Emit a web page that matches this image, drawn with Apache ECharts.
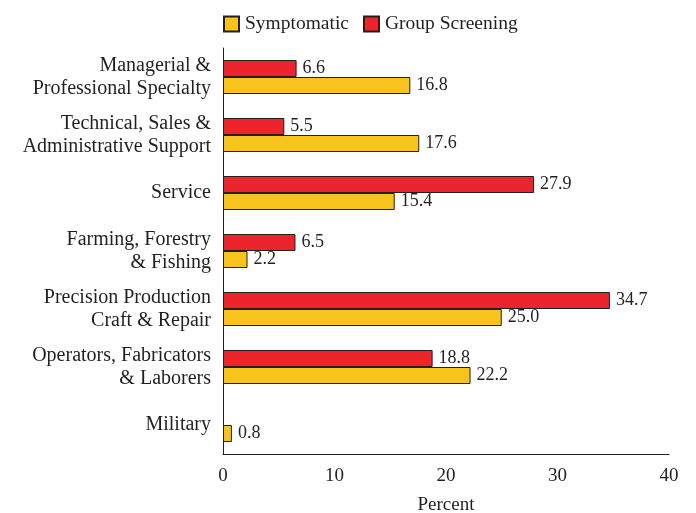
<!DOCTYPE html>
<html>
<head>
  <meta charset="UTF-8">
  <script src="https://cdn.jsdelivr.net/npm/echarts@6/dist/echarts.min.js"></script>
</head>
<body style="margin:0">
  <div id="main" style="width:696px;height:513px;"></div>
  <script>
    var categories = [
      'Managerial &\nProfessional Specialty',
      'Technical, Sales &\nAdministrative Support',
      'Service',
      'Farming, Forestry\n& Fishing',
      'Precision Production\nCraft & Repair',
      'Operators, Fabricators\n& Laborers',
      'Military'
    ];
    var symptomatic = [16.8, 17.6, 15.4, 2.2, 25.0, 22.2, 0.8];
    var groupScreening = [6.6, 5.5, 27.9, 6.5, 34.7, 18.8, '-'];
    var xTicks = [0, 10, 20, 30, 40];

    var font = '"Liberation Serif", "DejaVu Serif", serif';
    var myChart = echarts.init(document.getElementById('main'));

    myChart.setOption({
      animation: false,
      textStyle: { fontFamily: font },
      legend: {
        top: 9,
        left: 218,
        icon: 'rect',
        itemWidth: 15,
        itemHeight: 15,
        itemGap: 14,
        textStyle: { fontFamily: font, fontSize: 19.5, color: '#231f20', padding: [0, 0, 0, 1] },
        data: ['Symptomatic', 'Group Screening']
      },
      grid: { left: 223, right: 27, top: 48, bottom: 59, outerBoundsMode: 'none', containLabel: false },
      xAxis: {
        type: 'value',
        min: xTicks[0],
        max: xTicks[xTicks.length - 1],
        interval: 10,
        name: 'Percent',
        nameLocation: 'middle',
        nameGap: 42,
        nameTextStyle: { fontFamily: font, fontSize: 19, color: '#231f20' },
        axisLine: { show: true, lineStyle: { color: '#231f20', width: 1 } },
        axisTick: { show: false },
        splitLine: { show: false },
        axisLabel: { fontFamily: font, fontSize: 19, color: '#231f20', margin: 13 }
      },
      yAxis: {
        type: 'category',
        inverse: true,
        data: categories,
        axisLine: { show: true, lineStyle: { color: '#231f20', width: 1 } },
        axisTick: { show: false },
        axisLabel: {
          fontFamily: font, fontSize: 20, color: '#231f20',
          margin: 12, align: 'right', lineHeight: 23
        }
      },
      series: [
        {
          name: 'Group Screening',
          type: 'bar',
          data: groupScreening,
          barWidth: 17,
          barGap: '0%',
          itemStyle: { color: '#ed242c', borderColor: '#231f20', borderWidth: 1 },
          label: {
            show: true, position: 'right', distance: 6,
            fontFamily: font, fontSize: 18, color: '#231f20',
            formatter: function (p) { return p.value.toFixed(1); }
          }
        },
        {
          name: 'Symptomatic',
          type: 'bar',
          data: symptomatic,
          barWidth: 17,
          barGap: '0%',
          itemStyle: { color: '#f8c31d', borderColor: '#231f20', borderWidth: 1 },
          label: {
            show: true, position: 'right', distance: 6,
            fontFamily: font, fontSize: 18, color: '#231f20',
            formatter: function (p) { return p.value.toFixed(1); }
          }
        }
      ]
    });
  </script>
</body>
</html>
